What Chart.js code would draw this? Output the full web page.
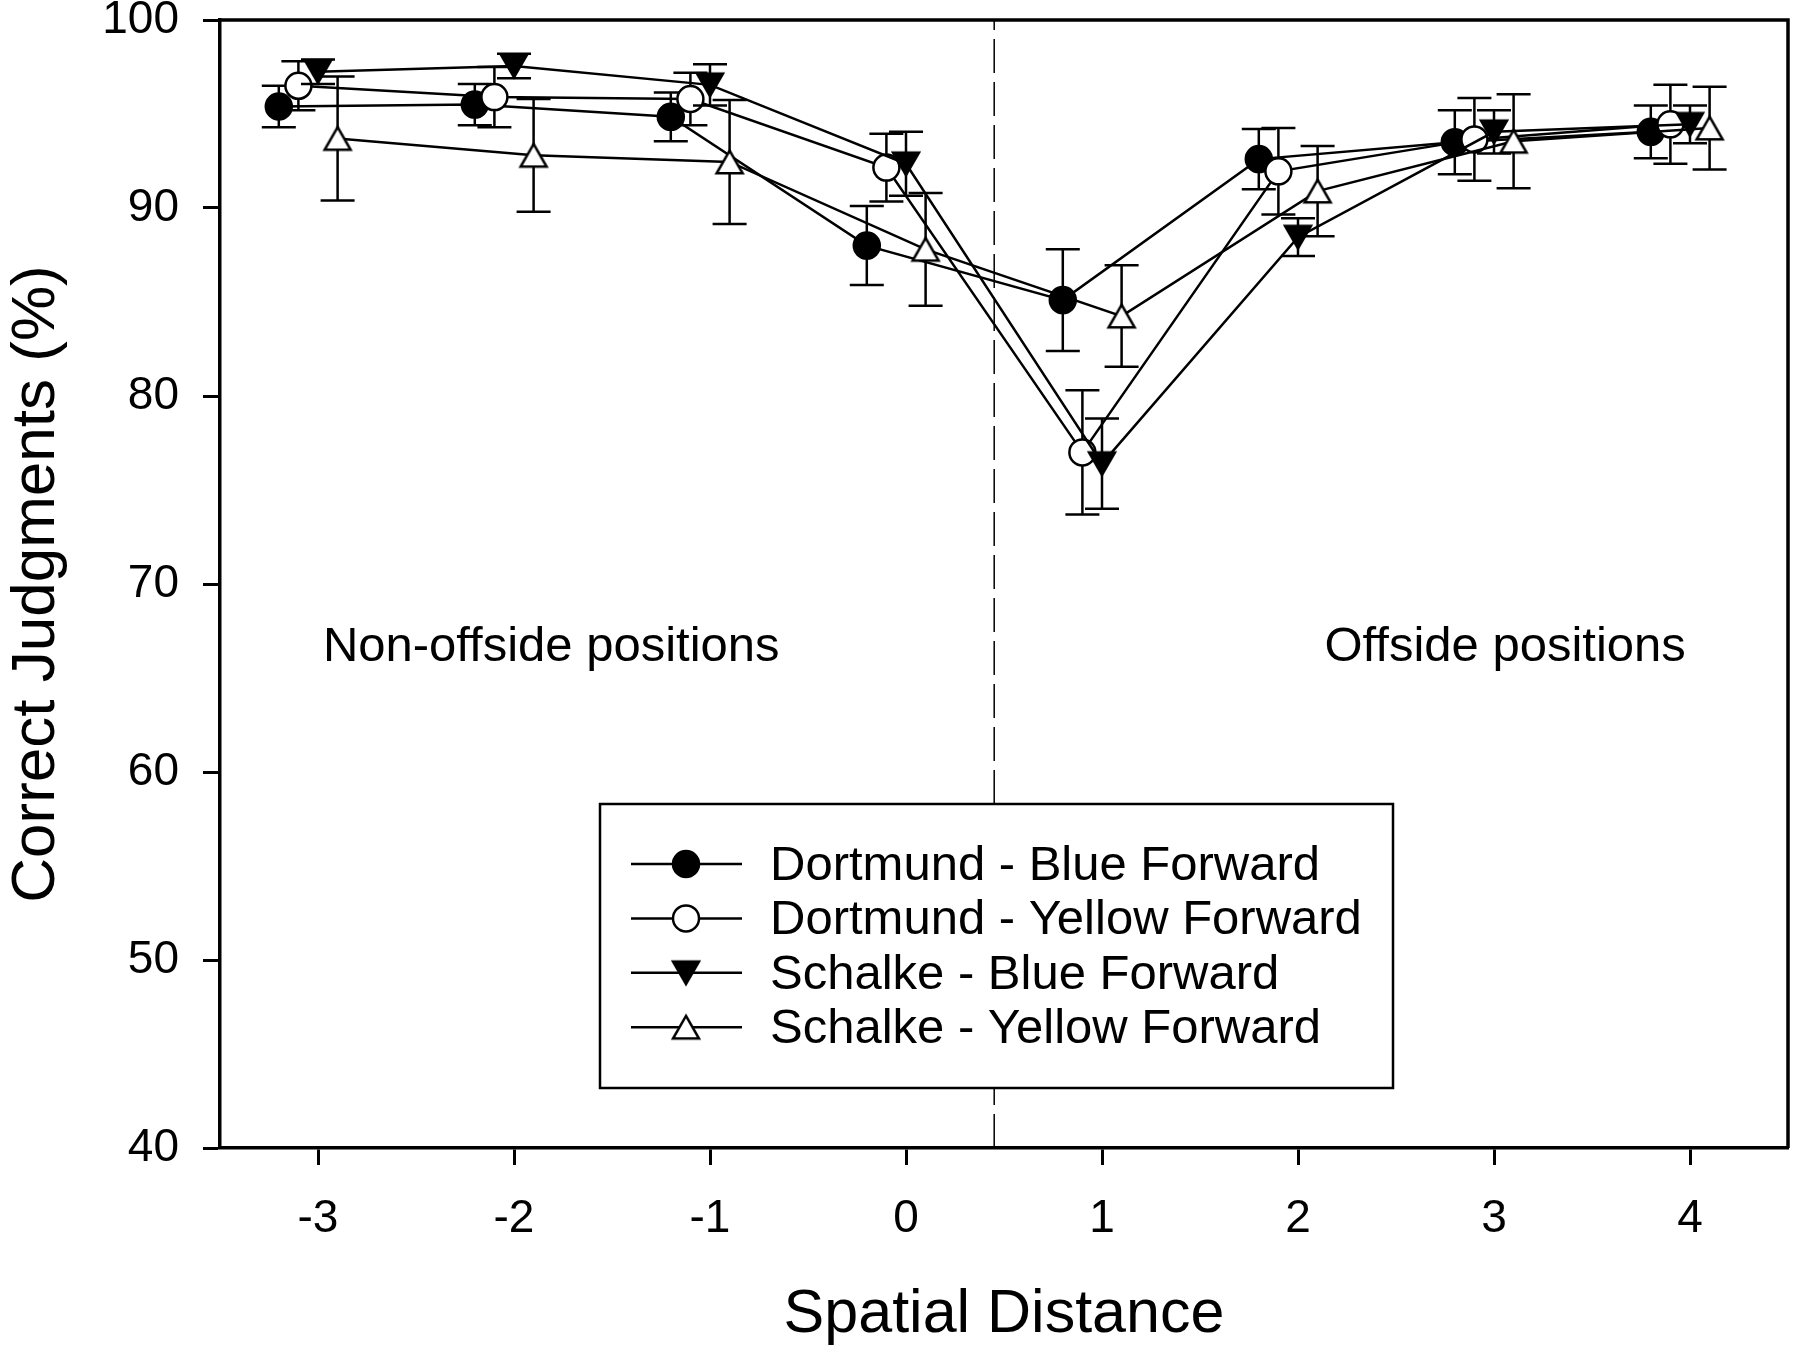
<!DOCTYPE html>
<html>
<head>
<meta charset="utf-8">
<script src="https://cdn.jsdelivr.net/npm/chart.js@4.4.0/dist/chart.umd.min.js"></script>
<style>
  html, body { margin: 0; padding: 0; background: #fff; }
  #wrap { width: 1794px; height: 1352px; }
</style>
</head>
<body>
<div id="wrap"><canvas id="chart" width="1794" height="1352"></canvas></div>
<script>
// data
const distances = [-3, -2, -1, 0, 1, 2, 3, 4];
const seriesNames = ['Dortmund - Blue Forward', 'Dortmund - Yellow Forward', 'Schalke - Blue Forward', 'Schalke - Yellow Forward'];
const seriesShift = [-0.2, -0.1, 0, 0.1];

const dortmundBlue = [95.4, 95.5, 94.85, 88.0, 85.1, 92.6, 93.5, 94.05];
const dortmundBlueErr = [1.1, 1.1, 1.3, 2.1, 2.7, 1.6, 1.7, 1.4];
const dortmundYellow = [96.5, 95.9, 95.8, 92.15, 77.0, 91.95, 93.65, 94.45];
const dortmundYellowErr = [1.3, 1.6, 1.4, 1.8, 3.3, 2.3, 2.2, 2.1];
const schalkeBlue = [97.25, 97.55, 96.55, 92.35, 76.4, 88.45, 94.05, 94.45];
const schalkeBlueErr = [0.65, 0.65, 1.1, 1.7, 2.4, 1.0, 1.15, 1.0];
const schalkeYellow = [93.7, 92.8, 92.45, 87.8, 84.25, 90.9, 93.55, 94.25];
const schalkeYellowErr = [3.3, 3.0, 3.3, 3.0, 2.7, 2.4, 2.5, 2.2];

const xTicks = [-3, -2, -1, 0, 1, 2, 3, 4];
const yTicks = [40, 50, 60, 70, 80, 90, 100];
const boundary = 0.45;

const FONT = "'Liberation Sans', Arial, sans-serif";
Chart.defaults.font.family = FONT;
Chart.defaults.color = '#000';

function triangleMarker(down, filled) {
    const c = document.createElement('canvas');
    c.width = 34;
    c.height = 30;
    const g = c.getContext('2d');
    const cx = 17, cy = 15, side = 26, h = side * Math.sqrt(3) / 2;
    g.beginPath();
    if (down) {
        g.moveTo(cx - side / 2, cy - h / 2);
        g.lineTo(cx + side / 2, cy - h / 2);
        g.lineTo(cx, cy + h / 2);
    } else {
        g.moveTo(cx, cy - h / 2);
        g.lineTo(cx + side / 2, cy + h / 2);
        g.lineTo(cx - side / 2, cy + h / 2);
    }
    g.closePath();
    g.fillStyle = filled ? '#000' : '#fff';
    g.fill();
    g.lineWidth = 2.5;
    g.strokeStyle = '#000';
    g.stroke();
    return c;
}

const downFilled = triangleMarker(true, true);
const upOpen = triangleMarker(false, false);

const markers = [
    { pointStyle: 'circle', fill: '#000' },
    { pointStyle: 'circle', fill: '#fff' },
    { pointStyle: downFilled, fill: '#000' },
    { pointStyle: upOpen, fill: '#fff' }
];

function makeSeries(i, values, errors) {
    return {
        label: seriesNames[i],
        data: values.map((v, k) => ({ x: distances[k] + seriesShift[i], y: v })),
        errors: errors,
        showLine: true,
        borderColor: '#000',
        borderWidth: 2.5,
        pointStyle: markers[i].pointStyle,
        pointRadius: 13,
        pointBorderWidth: 2.5,
        pointBorderColor: '#000',
        pointBackgroundColor: markers[i].fill,
        order: 4 - i
    };
}

// error bars, drawn under each series' own line and symbols
const errorBars = {
    id: 'errorBars',
    beforeDatasetDraw(chart, args) {
        const ds = chart.data.datasets[args.index];
        if (!ds.errors) return;
        const { ctx, scales: { x, y } } = chart;
        ctx.save();
        ctx.strokeStyle = '#000';
        ctx.lineWidth = 2.5;
        ds.data.forEach((p, k) => {
            const px = x.getPixelForValue(p.x);
            const top = y.getPixelForValue(p.y + ds.errors[k]);
            const bot = y.getPixelForValue(p.y - ds.errors[k]);
            ctx.beginPath();
            ctx.moveTo(px, top);
            ctx.lineTo(px, bot);
            ctx.moveTo(px - 17, top);
            ctx.lineTo(px + 17, top);
            ctx.moveTo(px - 17, bot);
            ctx.lineTo(px + 17, bot);
            ctx.stroke();
        });
        ctx.restore();
    }
};

// frame, region labels and legend box
const decorations = {
    id: 'decorations',
    afterDraw(chart) {
        const { ctx, chartArea: a, scales: { x, y } } = chart;
        ctx.save();
        ctx.strokeStyle = '#000';
        ctx.lineWidth = 3.5;
        ctx.beginPath();
        ctx.moveTo(a.left, a.top);
        ctx.lineTo(a.right, a.top);
        ctx.lineTo(a.right, a.bottom);
        ctx.stroke();

        ctx.fillStyle = '#000';
        ctx.font = '49px ' + FONT;
        ctx.textAlign = 'center';
        ctx.textBaseline = 'alphabetic';
        ctx.fillText('Non-offside positions', x.getPixelForValue(-1.81), y.getPixelForValue(65.9));
        ctx.fillText('Offside positions', x.getPixelForValue(3.057), y.getPixelForValue(65.9));

        // legend
        const box = { left: 600, top: 804, right: 1393, bottom: 1088 };
        ctx.fillStyle = '#fff';
        ctx.fillRect(box.left, box.top, box.right - box.left, box.bottom - box.top);
        ctx.lineWidth = 2.5;
        ctx.strokeRect(box.left, box.top, box.right - box.left, box.bottom - box.top);
        ctx.textAlign = 'left';
        chart.data.datasets.forEach((ds, i) => {
            if (!ds.errors) return;
            const rowY = 864 + i * 54.4;
            ctx.strokeStyle = '#000';
            ctx.lineWidth = 2.5;
            ctx.beginPath();
            ctx.moveTo(631, rowY);
            ctx.lineTo(742, rowY);
            ctx.stroke();
            const mx = 686;
            if (typeof ds.pointStyle === 'string') {
                ctx.beginPath();
                ctx.arc(mx, rowY, 13, 0, Math.PI * 2);
                ctx.fillStyle = ds.pointBackgroundColor;
                ctx.fill();
                ctx.stroke();
            } else {
                ctx.drawImage(ds.pointStyle, mx - ds.pointStyle.width / 2, rowY - ds.pointStyle.height / 2);
            }
            ctx.fillStyle = '#000';
            ctx.fillText(ds.label, 770, rowY + 16);
        });
        ctx.restore();
    }
};

const datasets = [
    makeSeries(0, dortmundBlue, dortmundBlueErr),
    makeSeries(1, dortmundYellow, dortmundYellowErr),
    makeSeries(2, schalkeBlue, schalkeBlueErr),
    makeSeries(3, schalkeYellow, schalkeYellowErr),
    {
        label: 'boundary',
        data: [{ x: boundary, y: 40 }, { x: boundary, y: 100 }],
        showLine: true,
        borderColor: '#000',
        borderWidth: 1.5,
        borderDash: [34, 9],
        pointRadius: 0,
        order: 10
    }
];

new Chart(document.getElementById('chart'), {
    type: 'scatter',
    data: { datasets },
    options: {
        responsive: false,
        animation: false,
        devicePixelRatio: 1,
        layout: {
            autoPadding: false,
            padding: { top: 20, right: 6, left: 0, bottom: 0 }
        },
        plugins: {
            legend: { display: false },
            tooltip: { enabled: false }
        },
        scales: {
            x: {
                type: 'linear',
                position: 'bottom',
                min: -3.5,
                max: 4.5,
                afterBuildTicks: s => { s.ticks = xTicks.map(v => ({ value: v })); },
                afterFit: s => {
                    s.height = 204;
                    s.paddingLeft = 0;
                    s.paddingRight = 0;
                },
                ticks: {
                    font: { size: 46 },
                    color: '#000',
                    padding: 27,
                    autoSkip: false,
                    maxRotation: 0,
                    callback: v => String(v)
                },
                grid: {
                    drawOnChartArea: false,
                    drawTicks: true,
                    tickLength: 17,
                    tickWidth: 3,
                    tickColor: '#000'
                },
                border: { display: true, color: '#000', width: 3.5 },
                title: {
                    display: true,
                    text: 'Spatial Distance',
                    font: { size: 61 },
                    color: '#000',
                    padding: 0
                }
            },
            y: {
                type: 'linear',
                min: 40,
                max: 100,
                afterBuildTicks: s => { s.ticks = yTicks.map(v => ({ value: v })); },
                afterFit: s => {
                    s.width = 220;
                    s.paddingTop = 0;
                    s.paddingBottom = 0;
                },
                ticks: {
                    font: { size: 46 },
                    color: '#000',
                    padding: 24,
                    callback: v => String(v)
                },
                grid: {
                    drawOnChartArea: false,
                    drawTicks: true,
                    tickLength: 17,
                    tickWidth: 3,
                    tickColor: '#000'
                },
                border: { display: true, color: '#000', width: 3.5 },
                title: {
                    display: true,
                    text: 'Correct Judgments (%)',
                    font: { size: 62 },
                    color: '#000',
                    padding: 0
                }
            }
        }
    },
    plugins: [errorBars, decorations]
});
</script>
</body>
</html>
